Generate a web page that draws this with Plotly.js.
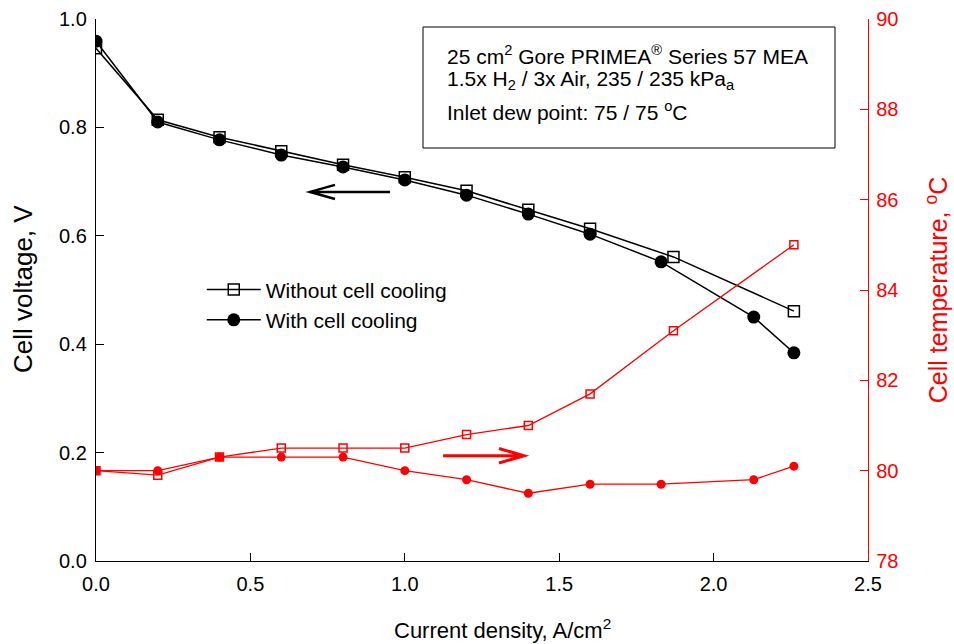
<!DOCTYPE html>
<html>
<head>
<meta charset="utf-8">
<script src="https://cdn.plot.ly/plotly-3.0.1.min.js"></script>
<style>html,body{margin:0;padding:0;background:#fff;}#chart{width:954px;height:644px;}</style>
</head>
<body>
<div id="chart"></div>
<script>
// Current density, A/cm2
const xWithout = [0.0, 0.2, 0.4, 0.6, 0.8, 1.0, 1.2, 1.4, 1.6, 1.87, 2.26];
const xWith = [0.0, 0.2, 0.4, 0.6, 0.8, 1.0, 1.2, 1.4, 1.6, 1.83, 2.13, 2.26];
// Cell voltage, V
const vWithout = [0.946, 0.814, 0.782, 0.756, 0.731, 0.708, 0.683, 0.648, 0.613, 0.561, 0.461];
const vWith = [0.959, 0.810, 0.777, 0.749, 0.727, 0.703, 0.675, 0.640, 0.603, 0.552, 0.450, 0.384];
// Cell temperature, °C
const tWithout = [80.0, 79.9, 80.3, 80.5, 80.5, 80.5, 80.8, 81.0, 81.7, 83.1, 85.0];
const tWith = [80.0, 80.0, 80.3, 80.3, 80.3, 80.0, 79.8, 79.5, 79.7, 79.7, 79.8, 80.1];

const names = ['Without cell cooling', 'With cell cooling'];
const xTicks = [0.0, 0.5, 1.0, 1.5, 2.0, 2.5];
const xTickText = ['0.0', '0.5', '1.0', '1.5', '2.0', '2.5'];
const yTicks = [0.0, 0.2, 0.4, 0.6, 0.8, 1.0];
const yTickText = ['0.0', '0.2', '0.4', '0.6', '0.8', '1.0'];
const y2Ticks = [78, 80, 82, 84, 86, 88, 90];

const font = 'Liberation Sans, Arial, sans-serif';

const traces = [
  {x: xWithout, y: vWithout, name: names[0], mode: 'lines+markers', type: 'scatter',
   line: {color: '#000', width: 1.5},
   marker: {symbol: 'square-open', size: 11, color: '#000', line: {width: 1.5, color: '#000'}}},
  {x: xWith, y: vWith, name: names[1], mode: 'lines+markers', type: 'scatter',
   line: {color: '#000', width: 1.5},
   marker: {symbol: 'circle', size: 13, color: '#000'}},
  {x: xWithout, y: tWithout, yaxis: 'y2', mode: 'lines+markers', type: 'scatter', showlegend: false,
   line: {color: '#ff0000', width: 1.3},
   marker: {symbol: 'square-open', size: 8, color: '#ff0000', line: {width: 1.5, color: '#ff0000'}}},
  {x: xWith, y: tWith, yaxis: 'y2', mode: 'lines+markers', type: 'scatter', showlegend: false,
   line: {color: '#ff0000', width: 1.3},
   marker: {symbol: 'circle', size: 9, color: '#ff0000'}}
];

const layout = {
  width: 954, height: 644,
  margin: {l: 96, r: 86, t: 19, b: 83},
  paper_bgcolor: '#fff', plot_bgcolor: '#fff',
  font: {family: font, size: 20, color: '#000'},
  showlegend: true,
  legend: {x: 0.137, y: 0.538, xanchor: 'left', yanchor: 'top', bgcolor: 'rgba(0,0,0,0)',
           font: {family: font, size: 21}, tracegroupgap: 0, itemwidth: 54},
  xaxis: {range: [0, 2.5], tickvals: xTicks, ticktext: xTickText, ticks: 'inside', ticklen: 8,
          tickcolor: '#000', showline: true, linecolor: '#000', linewidth: 1.2, showgrid: false,
          zeroline: false, tickfont: {size: 20}, ticklabelstandoff: 5},
  yaxis: {range: [0, 1.0], tickvals: yTicks, ticktext: yTickText, ticks: 'inside', ticklen: 8,
          tickcolor: '#000', showline: true, linecolor: '#000', linewidth: 1.2, showgrid: false,
          zeroline: false, tickfont: {size: 20}, ticklabelstandoff: 4},
  yaxis2: {range: [78, 90], tickvals: y2Ticks, overlaying: 'y', side: 'right', ticks: 'inside',
           ticklen: 8, tickcolor: '#ff0000', showline: true, linecolor: '#ff0000', linewidth: 1.2,
           showgrid: false, zeroline: false, tickfont: {size: 20, color: '#ff0000'}, ticklabelstandoff: 3,
           title: {text: 'Cell temperature, <sup>o</sup>C', font: {size: 25, color: '#ff0000'}, standoff: 32}},
  shapes: [
    {type: 'rect', xref: 'paper', yref: 'paper',
     x0: (423 - 96) / 772, x1: (835 - 96) / 772, y0: (561 - 148) / 542, y1: (561 - 27) / 542,
     line: {color: '#000', width: 1}, fillcolor: 'rgba(0,0,0,0)'},
    {type: 'path', xref: 'x', yref: 'y',
     path: 'M 0.952 0.681 L 0.693 0.681 M 0.774 0.694 L 0.693 0.681 L 0.774 0.668',
     line: {color: '#000', width: 2.5}},
    {type: 'path', xref: 'x', yref: 'y2',
     path: 'M 1.124 80.33 L 1.386 80.33 M 1.305 80.49 L 1.386 80.33 L 1.305 80.17',
     line: {color: '#ff0000', width: 3}}
  ],
  annotations: [
    {xref: 'paper', yref: 'paper', x: (502 - 96) / 772, y: (561 - 629) / 542, xanchor: 'center', yanchor: 'middle',
     showarrow: false, font: {size: 22},
     text: 'Current density, A/cm<sup>2</sup>'},
    {xref: 'paper', yref: 'paper', x: (23 - 96) / 772, y: (561 - 289) / 542, xanchor: 'center', yanchor: 'middle',
     showarrow: false, font: {size: 26}, textangle: -90,
     text: 'Cell voltage, V'},
    {xref: 'paper', yref: 'paper', x: (445 - 96) / 772, y: (561 - 55) / 542, xanchor: 'left', yanchor: 'middle',
     showarrow: false, align: 'left', font: {size: 21},
     text: '25 cm<sup>2</sup> Gore PRIMEA<sup>®</sup> Series 57 MEA'},
    {xref: 'paper', yref: 'paper', x: (445 - 96) / 772, y: (561 - 80) / 542, xanchor: 'left', yanchor: 'middle',
     showarrow: false, align: 'left', font: {size: 21},
     text: '1.5x H<sub>2</sub> / 3x Air, 235 / 235 kPa<sub>a</sub>'},
    {xref: 'paper', yref: 'paper', x: (445 - 96) / 772, y: (561 - 111) / 542, xanchor: 'left', yanchor: 'middle',
     showarrow: false, align: 'left', font: {size: 21},
     text: 'Inlet dew point: 75 / 75 <sup>o</sup>C'}
  ]
};

Plotly.newPlot('chart', traces, layout, {displayModeBar: false, staticPlot: true});
</script>
</body>
</html>
